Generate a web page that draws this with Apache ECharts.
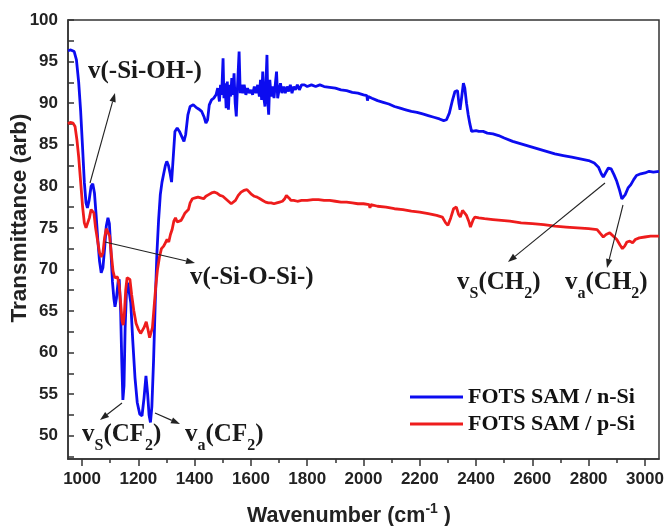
<!DOCTYPE html>
<html><head><meta charset="utf-8">
<script src="https://cdn.jsdelivr.net/npm/echarts@6/dist/echarts.min.js"></script>
<style>html,body{margin:0;padding:0;background:#fff}#c{width:665px;height:526px}</style>
</head><body><div id="c"></div>
<script>
// ---------- data ----------
const xMajorTicks = [1000,1200,1400,1600,1800,2000,2200,2400,2600,2800,3000];
const xMinorTicks = [1100,1300,1500,1700,1900,2100,2300,2500,2700,2900];
const yMajorTicks = [50,55,60,65,70,75,80,85,90,95,100];
const yAllTicks = [47.5,50,52.5,55,57.5,60,62.5,65,67.5,70,72.5,75,77.5,80,82.5,85,87.5,90,92.5,95,97.5,100];
const seriesNames = ['FOTS SAM / n-Si','FOTS SAM / p-Si'];

const nSi = [
[950,96.3],[960,96.4],[972,96.2],[980,95.2],[988,92.5],[995,89],[1002,84.5],[1008,80.5],[1014,78.0],[1019,77.4],
[1025,78.3],[1032,80.0],[1038,80.3],[1044,79.2],[1050,76.5],[1056,73.5],[1062,71.0],[1068,69.6],[1074,70.2],[1080,72.5],
[1086,75.2],[1092,76.2],[1097,75.5],[1102,72.5],[1108,68.5],[1113,66.5],[1117,65.5],[1122,66.5],[1128,68.5],[1132,68.8],
[1137,65],[1141,59],[1145,54.3],[1149,56],[1153,63],[1158,67.5],[1163,68.4],[1168,68.2],[1173,66],[1180,61.5],
[1188,57],[1196,54],[1205,52.6],[1213,52.4],[1220,54.5],[1227,57.2],[1233,55],[1238,52.5],[1243,51.6],[1248,53.5],
[1254,59],[1260,66],[1266,72],[1272,76],[1278,79],[1284,80.5],[1290,81.5],[1296,82.5],[1301,83.0],[1307,82.5],
[1313,81.5],[1318,80.5],[1322,82.5],[1330,86.6],[1338,87.0],[1346,86.6],[1354,86.0],[1362,85.4],[1368,86.2],[1376,88.6],
[1384,89.6],[1395,89.8],[1405,89.5],[1414,89.3],[1425,89.0],[1434,88.3],[1440,87.6],[1446,88.0],[1452,89.8],[1460,90.4],
[1468,90.6],[1476,91.0],[1482,91.8],[1488,90.2],[1492,92.2],[1496,91.0],[1501,95.4],[1504,90.6],[1508,92.4],[1512,89.4],
[1516,92.6],[1520,89.2],[1524,92.2],[1528,90.8],[1532,93.0],[1536,91.0],[1540,93.6],[1544,90.0],[1548,88.4],[1552,91.8],
[1558,96.2],[1562,91.2],[1566,92.2],[1571,91.2],[1576,92.2],[1582,91.0],[1588,91.8],[1594,91.2],[1600,91.6],[1606,91.0],
[1612,92.0],[1618,91.2],[1624,92.2],[1630,90.8],[1634,92.8],[1638,90.4],[1642,93.8],[1646,90.6],[1650,89.6],[1653,92.0],
[1657,95.8],[1660,90.2],[1663,88.6],[1667,92.8],[1672,90.8],[1677,92.0],[1682,90.6],[1687,92.4],[1691,93.8],[1695,90.6],
[1700,91.6],[1705,92.4],[1710,91.2],[1716,92.0],[1722,91.2],[1728,92.0],[1734,91.4],[1740,92.2],[1746,91.2],[1752,92.0],
[1758,91.6],[1765,92.2],[1772,91.6],[1780,92.2],[1790,92.2],[1800,92.0],[1815,92.2],[1830,92.0],[1845,92.2],[1860,92.0],
[1880,91.9],[1900,91.8],[1920,91.6],[1940,91.5],[1960,91.3],[1980,91.2],[2000,91.0],[2012,90.9],[2014,90.3],[2017,90.8],
[2030,90.6],[2050,90.3],[2070,90.1],[2090,89.9],[2110,89.6],[2130,89.4],[2150,89.2],[2170,89.0],[2190,88.9],[2210,88.7],
[2230,88.5],[2250,88.3],[2270,88.1],[2285,87.9],[2295,88.0],[2305,88.8],[2315,90.2],[2325,91.4],[2334,91.5],[2339,90.0],
[2343,89.2],[2348,90.5],[2355,92.4],[2360,91.8],[2366,90.0],[2372,88.6],[2378,87.5],[2384,86.6],[2390,86.5],[2400,86.7],
[2410,86.6],[2425,86.6],[2440,86.4],[2460,86.3],[2480,86.1],[2500,85.8],[2530,85.4],[2560,85.1],[2590,84.8],[2620,84.5],
[2650,84.2],[2680,83.9],[2710,83.7],[2740,83.5],[2770,83.3],[2800,83.1],[2820,82.8],[2835,82.3],[2845,81.5],[2852,81.1],
[2860,81.6],[2870,82.2],[2880,82.1],[2890,81.4],[2900,80.6],[2910,79.5],[2918,78.5],[2923,78.3],[2930,79.0],[2940,79.8],
[2950,80.2],[2960,80.8],[2970,81.3],[2985,81.5],[3000,81.6],[3015,81.8],[3030,81.7],[3050,81.8]
];

const pSi = [
[950,87.5],[958,87.7],[968,87.6],[975,87.2],[982,85.5],[988,83.5],[995,80.5],[1002,77.5],[1008,75.6],[1014,75.0],
[1020,75.1],[1026,76.2],[1032,77.2],[1037,77.4],[1042,76.8],[1048,75.0],[1055,73.5],[1062,72.0],[1068,71.5],[1074,72.0],
[1080,73.8],[1086,74.9],[1092,75.0],[1098,74.0],[1104,71.8],[1110,69.8],[1116,69.0],[1121,69.2],[1126,69.1],[1132,68.0],
[1137,66.0],[1142,63.8],[1146,63.3],[1150,64.5],[1155,67.5],[1160,69.0],[1165,69.2],[1170,68.8],[1176,67.0],[1184,65.0],
[1192,63.5],[1200,62.8],[1208,62.3],[1214,62.3],[1220,63.0],[1228,63.7],[1234,62.8],[1240,61.8],[1245,61.6],[1250,63.0],
[1256,65.5],[1262,68.0],[1268,70.0],[1275,71.5],[1282,72.5],[1290,72.8],[1296,73.2],[1302,73.6],[1308,73.3],[1314,74.2],
[1320,74.8],[1326,75.8],[1332,76.2],[1338,75.7],[1345,75.6],[1352,75.9],[1360,76.4],[1366,76.8],[1372,76.6],[1378,77.2],
[1384,78.0],[1392,78.5],[1402,78.6],[1412,78.7],[1422,78.6],[1432,78.5],[1440,78.8],[1450,79.0],[1460,79.2],[1470,79.3],
[1478,79.2],[1490,78.9],[1500,78.8],[1510,78.5],[1520,78.2],[1530,77.9],[1536,77.8],[1545,78.3],[1555,78.9],[1565,79.3],
[1575,79.5],[1586,79.6],[1600,79.1],[1612,78.8],[1622,78.7],[1632,78.5],[1642,78.3],[1652,78.1],[1662,78.0],[1672,78.0],
[1682,77.9],[1692,78.0],[1702,78.1],[1712,78.2],[1720,78.5],[1726,78.9],[1730,79.0],[1735,78.6],[1742,78.3],[1752,78.3],
[1765,78.2],[1780,78.3],[1800,78.3],[1820,78.4],[1840,78.4],[1860,78.3],[1880,78.3],[1900,78.2],[1920,78.1],[1940,78.1],
[1960,78.0],[1980,77.9],[2000,77.9],[2020,77.8],[2023,77.4],[2026,77.8],[2050,77.6],[2080,77.5],[2110,77.3],[2140,77.2],
[2170,77.0],[2200,76.9],[2230,76.7],[2260,76.5],[2280,76.3],[2292,75.6],[2300,75.3],[2310,76.2],[2320,77.3],[2330,77.5],
[2338,76.6],[2344,76.3],[2352,77.1],[2358,77.2],[2366,76.5],[2374,75.8],[2380,75.1],[2385,75.2],[2390,76.0],[2396,76.3],
[2410,76.2],[2430,76.1],[2460,76.0],[2490,75.9],[2520,75.8],[2560,75.6],[2600,75.5],[2640,75.4],[2680,75.2],[2720,75.1],
[2760,75.0],[2800,74.9],[2830,74.8],[2842,74.3],[2852,73.9],[2862,74.2],[2875,74.4],[2888,74.0],[2900,73.6],[2912,72.9],
[2920,72.5],[2928,72.8],[2936,73.3],[2946,73.4],[2956,73.2],[2966,73.6],[2980,73.8],[3000,73.9],[3020,74.0],[3050,74.0]
];

// ---------- helpers for annotations ----------
const SERIF = '"Liberation Serif","Times New Roman",serif';
const SANS = '"Liberation Sans",Arial,sans-serif';
const mctx = document.createElement('canvas').getContext('2d');
function tw(t, font) { mctx.font = font; return mctx.measureText(t).width; }
function compose(x, y, parts, o) {
  const els = [];
  const fonts = parts.map(p => `bold ${p[1] === 'n' ? o.size : o.small}px ${o.family}`);
  let total = 0;
  parts.forEach((p, i) => { total += tw(p[0], fonts[i]); });
  let cx = o.center ? x - total / 2 : x;
  parts.forEach((p, i) => {
    const dy = p[1] === 'sub' ? o.subDy : (p[1] === 'sup' ? o.supDy : 0);
    els.push({type: 'text', x: cx, y: y + dy, z: 100,
      style: {text: p[0], font: fonts[i], fill: o.color || '#1a1a1a',
        align: 'left', textAlign: 'left', verticalAlign: 'middle', textVerticalAlign: 'middle'}});
    cx += tw(p[0], fonts[i]);
  });
  return els;
}
function arrow(x1, y1, x2, y2) {
  const a = Math.atan2(y2 - y1, x2 - x1), L = 9, W = 3.2;
  const bx = x2 - L * Math.cos(a), by = y2 - L * Math.sin(a);
  const px = -Math.sin(a) * W, py = Math.cos(a) * W;
  return [
    {type: 'line', z: 100, shape: {x1: x1, y1: y1, x2: bx, y2: by}, style: {stroke: '#222', lineWidth: 1.1}},
    {type: 'polygon', z: 100, shape: {points: [[x2, y2], [bx + px, by + py], [bx - px, by - py]]}, style: {fill: '#222'}}
  ];
}
const ann = {size: 25, small: 16, family: SERIF, subDy: 11, supDy: -8};
let graphics = [];
graphics = graphics.concat(
  compose(88, 72, [['v(-Si-OH-)', 'n']], ann),
  compose(190, 278, [['v(-Si-O-Si-)', 'n']], ann),
  compose(82, 435, [['v', 'n'], ['S', 'sub'], ['(CF', 'n'], ['2', 'sub'], [')', 'n']], ann),
  compose(185, 435, [['v', 'n'], ['a', 'sub'], ['(CF', 'n'], ['2', 'sub'], [')', 'n']], ann),
  compose(457, 283, [['v', 'n'], ['S', 'sub'], ['(CH', 'n'], ['2', 'sub'], [')', 'n']], ann),
  compose(565, 283, [['v', 'n'], ['a', 'sub'], ['(CH', 'n'], ['2', 'sub'], [')', 'n']], ann),
  arrow(90, 183, 115, 93),
  arrow(105, 242, 195, 263),
  arrow(122, 403, 100, 420),
  arrow(155, 413, 180, 424),
  arrow(605, 183, 508, 262),
  arrow(623, 205, 607, 268),
  compose(349, 516, [['Wavenumber (cm', 'n'], ['-1', 'sup'], [' )', 'n']], {size: 21.5, small: 14, family: SANS, subDy: 0, supDy: -7, center: true, color: '#222'})
);
graphics.push({type: 'text', x: 20, y: 218, rotation: Math.PI / 2, z: 100,
  style: {text: 'Transmittance (arb)', font: `bold 22.5px ${SANS}`, fill: '#222',
    align: 'center', textAlign: 'center', verticalAlign: 'middle', textVerticalAlign: 'middle'}});

// ---------- chart ----------
const chart = echarts.init(document.getElementById('c'), null, {renderer: 'canvas'});
const axisCol = '#333';
const tickLabel = {fontSize: 17, fontWeight: 'bold', fontFamily: SANS, color: '#222', formatter: v => String(v)};
chart.setOption({
  animation: false,
  backgroundColor: '#fff',
  grid: {left: 68, right: 6, top: 20, bottom: 67, show: true, borderColor: axisCol, borderWidth: 1.5,
    containLabel: false, outerBoundsMode: 'none'},
  xAxis: [
    {type: 'value', min: 950, max: 3050, position: 'bottom',
      axisLine: {show: true, onZero: false, lineStyle: {color: axisCol, width: 1.5}},
      axisTick: {show: true, inside: false, length: 7, customValues: xMajorTicks, lineStyle: {color: axisCol, width: 1.5}},
      axisLabel: Object.assign({customValues: xMajorTicks, margin: 12}, tickLabel),
      splitLine: {show: false}},
    {type: 'value', min: 950, max: 3050, position: 'bottom',
      axisLine: {show: false},
      axisTick: {show: true, inside: false, length: 4, customValues: xMinorTicks, lineStyle: {color: axisCol, width: 1.5}},
      axisLabel: {show: false}, splitLine: {show: false}}
  ],
  yAxis: [
    {type: 'value', min: 47.2, max: 100, position: 'left',
      axisLine: {show: true, onZero: false, lineStyle: {color: axisCol, width: 1.5}},
      axisTick: {show: true, inside: true, length: 6, customValues: yAllTicks, lineStyle: {color: axisCol, width: 1.5}},
      axisLabel: Object.assign({customValues: yMajorTicks, margin: 10}, tickLabel),
      splitLine: {show: false}}
  ],
  legend: {orient: 'vertical', left: 405, top: 381, itemWidth: 53, itemHeight: 3, itemGap: 5,
    icon: 'rect',
    data: seriesNames,
    textStyle: {fontFamily: SERIF, fontWeight: 'bold', fontSize: 22, color: '#111'}},
  series: [
    {name: seriesNames[0], type: 'line', xAxisIndex: 0, yAxisIndex: 0, data: nSi, showSymbol: false, symbol: 'none',
      lineStyle: {color: '#0c0cf0', width: 2.8}, itemStyle: {color: '#0c0cf0'}, z: 3},
    {name: seriesNames[1], type: 'line', xAxisIndex: 0, yAxisIndex: 0, data: pSi, showSymbol: false, symbol: 'none',
      lineStyle: {color: '#ee1c1c', width: 2.8}, itemStyle: {color: '#ee1c1c'}, z: 4}
  ],
  graphic: graphics
});
</script></body></html>
